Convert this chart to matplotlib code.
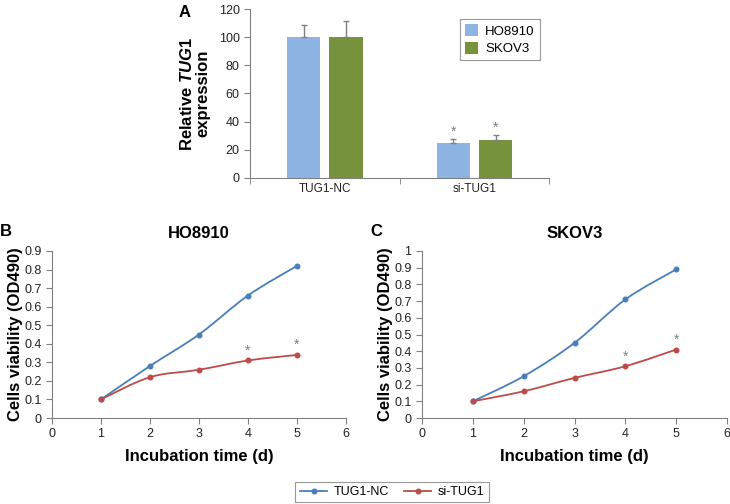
import numpy as np
import matplotlib
matplotlib.use("Agg")
import matplotlib.pyplot as plt
from matplotlib.path import Path
from matplotlib.patches import PathPatch
from matplotlib.lines import Line2D

plt.rcParams['font.family'] = ['Liberation Sans', 'DejaVu Sans']
plt.rcParams['mathtext.fontset'] = 'custom'
plt.rcParams['mathtext.it'] = 'Liberation Sans:italic:bold'
plt.rcParams['mathtext.rm'] = 'Liberation Sans:bold'

# panel A data
groups = ["TUG1-NC", "si-TUG1"]
ho8910_expr = [100, 25]
ho8910_err = [8.4, 2.4]
skov3_expr = [100, 27]
skov3_err = [11.5, 3.3]

# panel B/C data
days = [1, 2, 3, 4, 5]
ho_nc = [0.10, 0.28, 0.45, 0.66, 0.82]
ho_si = [0.10, 0.22, 0.26, 0.31, 0.34]
sk_nc = [0.10, 0.25, 0.45, 0.71, 0.89]
sk_si = [0.10, 0.16, 0.24, 0.31, 0.41]
star_days = [4, 5]

BAR_BLUE = "#8db4e2"
BAR_GREEN = "#76923c"
LINE_BLUE = "#4a7ebb"
LINE_RED = "#be4b48"
GREY = "#808080"
TXT = "#222222"

def smooth_line(ax, x, y, color):
    # excel style smoothed line (bezier through the points)
    p = np.column_stack([x, y]).astype(float)
    n = len(p)
    verts = [p[0]]
    codes = [Path.MOVETO]
    for i in range(n - 1):
        p0 = p[i - 1] if i > 0 else p[i]
        p3 = p[i + 2] if i + 2 < n else p[i + 1]
        c1 = p[i] + (p[i + 1] - p0) / 6.0
        c2 = p[i + 1] - (p3 - p[i]) / 6.0
        verts += [c1, c2, p[i + 1]]
        codes += [Path.CURVE4] * 3
    ax.add_patch(PathPatch(Path(verts, codes), fill=False, edgecolor=color, lw=1.3, zorder=3))
    ax.plot(x, y, linestyle="none", marker="o", ms=3.3, color=color, zorder=4)

fig = plt.figure(figsize=(7.3, 5.04), dpi=100)

# ---- panel A
axA = fig.add_axes([0.3425, 0.647, 0.41, 0.335])
xpos = np.arange(len(groups))
w = 0.223
off = 0.142
axA.bar(xpos - off, ho8910_expr, w, color=BAR_BLUE, label="HO8910", zorder=2)
axA.bar(xpos + off, skov3_expr, w, color=BAR_GREEN, label="SKOV3", zorder=2)
axA.errorbar(xpos - off, ho8910_expr, yerr=[[0, 0], ho8910_err], fmt="none",
             ecolor=GREY, elinewidth=1, capsize=2, capthick=1, zorder=3)
axA.errorbar(xpos + off, skov3_expr, yerr=[[0, 0], skov3_err], fmt="none",
             ecolor=GREY, elinewidth=1, capsize=2, capthick=1, zorder=3)
for i in range(len(groups)):
    if groups[i] == "si-TUG1":
        axA.text(xpos[i] - off, ho8910_expr[i] + ho8910_err[i] + 0.5, "*", ha="center",
                 va="bottom", fontsize=10, color=GREY)
        axA.text(xpos[i] + off, skov3_expr[i] + skov3_err[i] + 0.5, "*", ha="center",
                 va="bottom", fontsize=10, color=GREY)
axA.set_xlim(-0.5, 1.5)
axA.set_ylim(0, 120)
axA.set_yticks(range(0, 121, 20))
axA.set_xticks(xpos)
axA.set_xticklabels(groups)
axA.set_xticks([-0.5, 0.5, 1.5], minor=True)
axA.tick_params(axis="x", which="major", length=0, labelsize=8.5, colors=TXT, pad=4)
axA.tick_params(axis="x", which="minor", length=4, color=GREY)
axA.tick_params(axis="y", length=4, color=GREY, labelsize=9, labelcolor=TXT)
for s in ["top", "right"]:
    axA.spines[s].set_visible(False)
for s in ["left", "bottom"]:
    axA.spines[s].set_color(GREY)
axA.set_ylabel("Relative $\\it{TUG1}$\nexpression", fontsize=12,
               fontweight="bold", labelpad=6, linespacing=1.05)
leg = axA.legend(loc="upper right", bbox_to_anchor=(0.99, 0.98), fontsize=9.5,
                 frameon=True, fancybox=False, handlelength=1.0, handleheight=1.0,
                 borderpad=0.4, labelspacing=0.3, handletextpad=0.5)
leg.get_frame().set_edgecolor(GREY)
leg.get_frame().set_linewidth(0.8)
fig.text(0.244, 0.99, "A", fontsize=12, fontweight="bold", va="top")

# ---- panels B and C
def line_panel(rect, nc, si, title, ymax, letter, lx):
    ax = fig.add_axes(rect)
    smooth_line(ax, days, nc, LINE_BLUE)
    smooth_line(ax, days, si, LINE_RED)
    for d in star_days:
        ax.text(d, si[days.index(d)] + 0.015, "*", ha="center", va="bottom",
                fontsize=10, color=GREY)
    ax.set_xlim(0, 6)
    ax.set_ylim(0, ymax)
    ax.set_xticks(range(0, 7))
    yt = np.round(np.arange(0, ymax + 0.001, 0.1), 1)
    ax.set_yticks(yt)
    ax.set_yticklabels([("%g" % v) for v in yt])
    ax.tick_params(length=4, color=GREY, labelsize=9, labelcolor=TXT)
    for s in ["top", "right"]:
        ax.spines[s].set_visible(False)
    for s in ["left", "bottom"]:
        ax.spines[s].set_color(GREY)
    ax.set_title(title, fontsize=12, fontweight="bold", pad=9)
    ax.set_xlabel("Incubation time (d)", fontsize=12, fontweight="bold", labelpad=6)
    ax.set_ylabel("Cells viability (OD490)", fontsize=12, fontweight="bold", labelpad=1)
    fig.text(lx, 0.54, letter, fontsize=12, fontweight="bold", va="center")
    return ax

line_panel([0.071, 0.1706, 0.403, 0.3314], ho_nc, ho_si, "HO8910", 0.9, "B", 0.0)
line_panel([0.578, 0.1706, 0.418, 0.3314], sk_nc, sk_si, "SKOV3", 1.0, "C", 0.508)

handles = [Line2D([], [], color=LINE_BLUE, lw=1.3, marker="o", ms=3.3),
           Line2D([], [], color=LINE_RED, lw=1.3, marker="o", ms=3.3)]
bl = fig.legend(handles, ["TUG1-NC", "si-TUG1"], loc="center", bbox_to_anchor=(0.537, 0.024),
                ncol=2, fontsize=9, frameon=True, fancybox=False, handlelength=2.2,
                borderpad=0.35, columnspacing=1.2, handletextpad=0.5)
bl.get_frame().set_edgecolor(GREY)
bl.get_frame().set_linewidth(0.8)

fig.savefig("out.png", dpi=100)
